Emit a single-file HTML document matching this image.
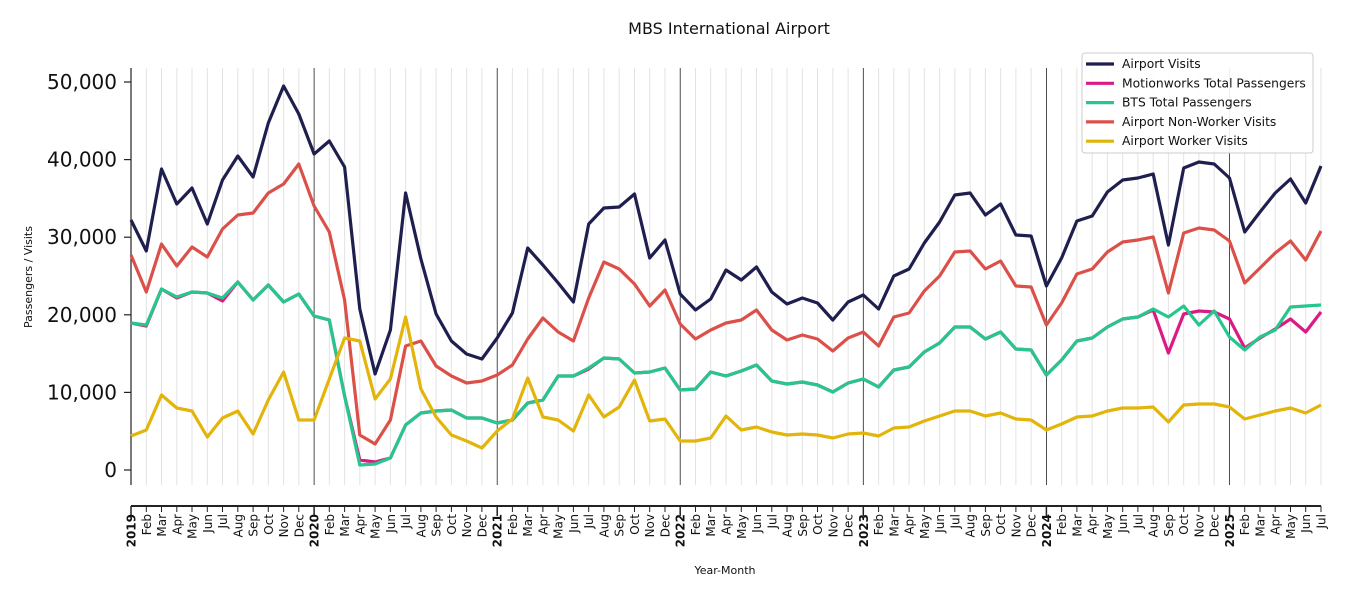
<!DOCTYPE html>
<html><head><meta charset="utf-8"><style>
html,body{margin:0;padding:0;background:#fff;}
svg text{font-family:"DejaVu Sans","Liberation Sans",sans-serif;}
</style></head><body>
<svg id="c" width="1350" height="600" xmlns="http://www.w3.org/2000/svg"></svg>
<script>
const X0=131,DX=(1321-131)/78;
const nav=[220,251,169,204,188,224,180,156,177,123,86,114,154,141,167,309,374,330,193,259,314,341,354,359,338,313,248,265,283,302,224,208,207,194,258,240,294,310,299,270,280,267,292,304,298,303,320,302,295,309,276,269,243,222,195,193,215,204,235,236,286,258,221,216,192,180,178,174,245,168,162,164,178,232,212,193,179,203,166];
const red=[255,292,244,266,247,257,229,215,213,193,184,164,206,232,300,435,444,420,346,341,366,376,383,381,375,365,339,318,332,341,298,262,269,284,306,290,324,339,330,323,320,310,330,340,335,339,351,338,332,346,317,313,291,276,252,251,269,261,286,287,325,303,274,269,252,242,240,237,293,233,228,230,241,283,268,253,241,260,231];
const grn=[323,325,289,297,292,293,298,282,300,285,302,294,316,320,396,465,464,458,425,413,411,410,418,418,423,420,403,400,376,376,368,358,359,373,372,368,390,389,372,376,371,365,381,384,382,385,392,383,379,387,370,367,352,343,327,327,339,332,349,350,375,360,341,338,327,319,317,309,317,306,325,311,337,350,337,330,307,306,305];
const mag=grn.slice();
Object.assign(mag,{1:326,3:298,6:301,15:460,16:462,30:369,67:310,68:353,69:314,70:311,71:312,72:319,73:348,74:338,75:329,76:319,77:332,78:312});
const yel=[436,430,395,408,411,437,418,411,434,400,372,420,420,379,338,341,399,379,317,389,417,435,441,448,431,419,378,417,420,431,395,417,407,380,421,419,441,441,438,416,430,427,432,435,434,435,438,434,433,436,428,427,421,416,411,411,416,413,419,420,430,424,417,416,411,408,408,407,422,405,404,404,407,419,415,411,408,413,405];
let s='';
const M=['Jan','Feb','Mar','Apr','May','Jun','Jul','Aug','Sep','Oct','Nov','Dec'];
for(let i=0;i<79;i++){const x=(X0+i*DX).toFixed(1);
 if(i%12==0&&i>0)s+=`<line x1="${x}" y1="68" x2="${x}" y2="485" stroke="#222" stroke-width="0.8"/>`;
 else if(i>0)s+=`<line x1="${x}" y1="68" x2="${x}" y2="485" stroke="#e3e3e3" stroke-width="1"/>`;
 s+=`<line x1="${x}" y1="506" x2="${x}" y2="${i%12==0?516:512}" stroke="#222" stroke-width="${i%12==0?1.5:1}"/>`;
 const lab=i%12==0?(2019+i/12):M[i%12];
 s+=`<text transform="translate(${(+x+4.5).toFixed(1)},514) rotate(-90)" text-anchor="end" font-size="12" ${i%12==0?'font-weight="bold"':''} fill="#111">${lab}</text>`;
}
s+=`<line x1="131" y1="68" x2="131" y2="485" stroke="#222" stroke-width="1.2"/>`;
s+=`<line x1="131" y1="506" x2="1321" y2="506" stroke="#222" stroke-width="2"/>`;
const yl=['0','10,000','20,000','30,000','40,000','50,000'];
for(let k=0;k<6;k++){const y=470-k*77.6;
 s+=`<line x1="124" y1="${y}" x2="131" y2="${y}" stroke="#222" stroke-width="1.2"/>`;
 s+=`<text x="117" y="${y+7}" text-anchor="end" font-size="20" fill="#111">${yl[k]}</text>`;}
function pl(a,c){return `<polyline fill="none" stroke="${c}" stroke-width="3.2" stroke-linejoin="round" points="${a.map((y,i)=>(X0+i*DX).toFixed(1)+','+y).join(' ')}"/>`;}
s+=pl(nav,'#1f1f4f')+pl(mag,'#dc1a85')+pl(grn,'#26c68d')+pl(red,'#dc504a')+pl(yel,'#e3b40a');
s+=`<text x="729" y="34" text-anchor="middle" font-size="16" fill="#111">MBS International Airport</text>`;
s+=`<text x="725" y="574" text-anchor="middle" font-size="11" fill="#111">Year-Month</text>`;
s+=`<text transform="translate(32,277) rotate(-90)" text-anchor="middle" font-size="11" fill="#111">Passengers / Visits</text>`;
s+=`<rect x="1082" y="53" width="231" height="100" rx="3" fill="#fff" fill-opacity="0.9" stroke="#ccc"/>`;
const L=[['Airport Visits','#1f1f4f'],['Motionworks Total Passengers','#dc1a85'],['BTS Total Passengers','#26c68d'],['Airport Non-Worker Visits','#dc504a'],['Airport Worker Visits','#e3b40a']];
L.forEach((l,i)=>{const y=64+i*19.3;
 s+=`<line x1="1086" y1="${y}" x2="1114" y2="${y}" stroke="${l[1]}" stroke-width="3.2"/>`;
 s+=`<text x="1122" y="${y+4}" font-size="12.3" fill="#111">${l[0]}</text>`;});
document.getElementById('c').innerHTML=s;
</script>
</body></html>
